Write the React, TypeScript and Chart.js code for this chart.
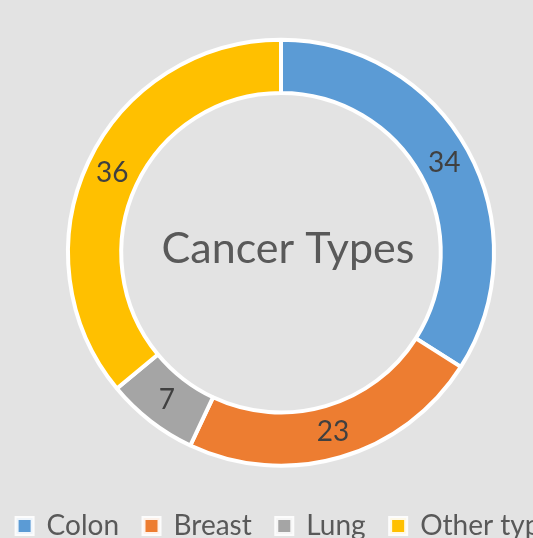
import React, { useEffect, useRef } from "react";
import { Chart, registerables } from "chart.js";

Chart.register(...registerables);

const categories = ["Colon", "Breast", "Lung", "Other types"];
const values = [34, 23, 7, 36];
const colors = ["#5B9BD5", "#ED7D31", "#A5A5A5", "#FFC000"];
const centerTitle = "Cancer Types";

const FONT = "Lato, 'Open Sans', sans-serif";
const TEXT = "#595959";

const labelsPlugin = {
  id: "arcLabels",
  afterLayout(chart: any) {
    // nudge the centred legend row slightly to the right
    if (chart.legend) {
      chart.legend.left += 11;
      chart.legend.right += 11;
    }
  },
  afterDatasetsDraw(chart: any) {
    const ctx = chart.ctx;
    const meta = chart.getDatasetMeta(0);
    ctx.save();
    ctx.font = `28px ${FONT}`;
    ctx.fillStyle = "#404040";
    ctx.textAlign = "center";
    ctx.textBaseline = "middle";
    meta.data.forEach((arc: any, i: number) => {
      const p = arc.getCenterPoint();
      ctx.fillText(String(values[i]), p.x, p.y);
    });
    const a0 = meta.data[0];
    ctx.font = `43px ${FONT}`;
    ctx.fillStyle = TEXT;
    ctx.fillText(centerTitle, a0.x + 7, a0.y - 4);
    ctx.restore();
  },
};

export default function App() {
  const ref = useRef<HTMLCanvasElement>(null);
  useEffect(() => {
    if (!ref.current) return;
    const chart = new Chart(ref.current, {
      type: "doughnut",
      data: {
        labels: categories,
        datasets: [
          {
            data: values,
            backgroundColor: colors,
            borderColor: "#ffffff",
            borderWidth: 4,
          },
        ],
      },
      options: {
        animation: false,
        responsive: false,
        devicePixelRatio: 1,
        radius: 213,
        cutout: "75%",
        layout: { padding: { top: 18, left: 0, right: 0, bottom: 0 } },
        plugins: {
          tooltip: { enabled: false },
          legend: {
            position: "bottom",
            labels: {
              color: TEXT,
              font: { size: 28, family: FONT },
              boxWidth: 16,
              boxHeight: 16,
              padding: 24.5,
              generateLabels(chart: any) {
                const base = (Chart as any).overrides.doughnut.plugins.legend.labels.generateLabels(chart);
                return base.map((l: any) => ({ ...l, lineWidth: 4, strokeStyle: "rgba(255,255,255,0.9)" }));
              },
            },
          },
        },
      },
      plugins: [labelsPlugin],
    });
    return () => chart.destroy();
  }, []);
  return (
    <canvas
      ref={ref}
      width={700}
      height={550}
      style={{ position: "absolute", left: -69, top: 0, background: "#e3e3e3" }}
    />
  );
}
